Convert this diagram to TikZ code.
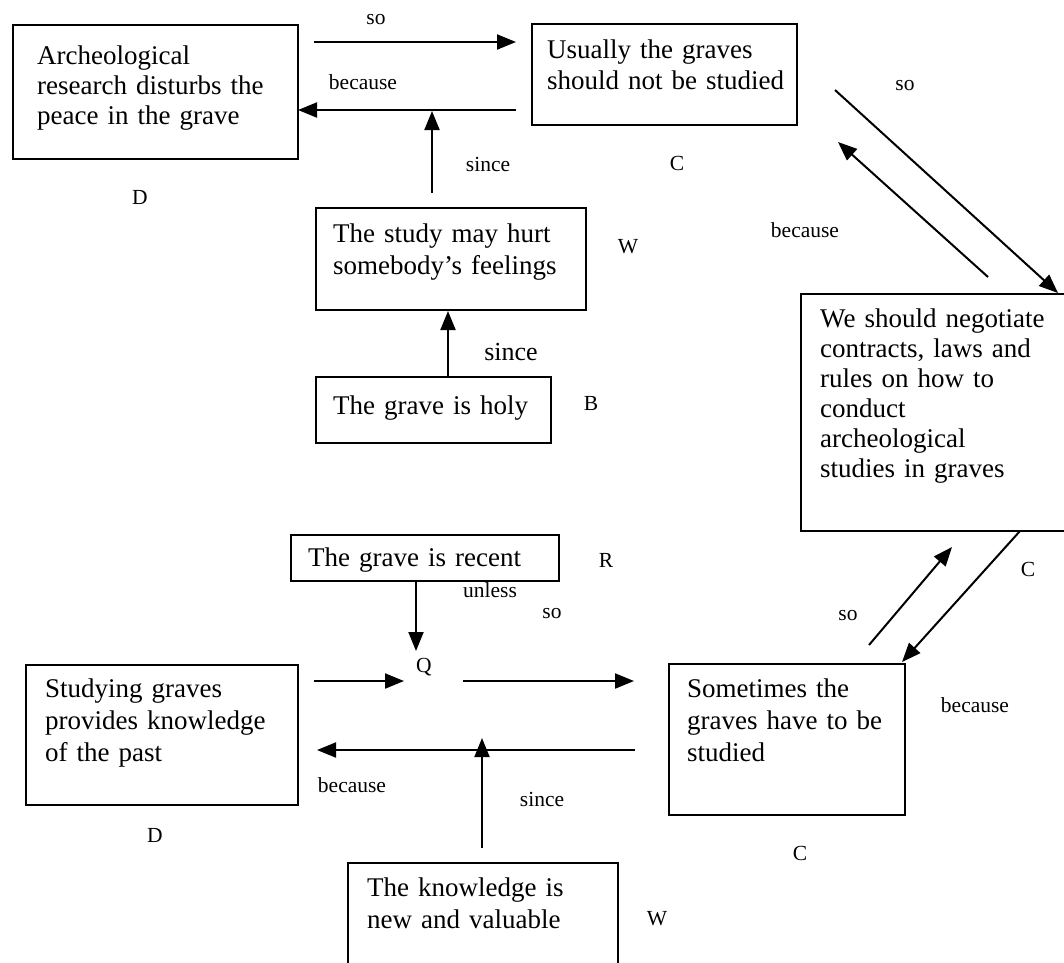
\documentclass[tikz,border=0pt]{standalone}
\usepackage{fontspec}
\setmainfont{Liberation Serif}
\usetikzlibrary{arrows.meta}
\newcommand{\boxfont}[1]{\fontsize{27}{#1}\selectfont}
\begin{document}
\begin{tikzpicture}[x=1pt,y=-1pt,
  box/.style={draw, line width=2.2pt, inner sep=0pt, anchor=north west},
  txt/.style={anchor=base west, inner sep=0pt, align=left, text width=300pt, font=\boxfont{#1}},
  lbl/.style={anchor=base, inner sep=0pt, font=\fontsize{21.5}{25}\selectfont},
  big/.style={anchor=base, inner sep=0pt, font=\fontsize{26}{30}\selectfont},
  arr/.style={line width=2pt, -{Triangle[length=19pt,width=15pt]}}]
\useasboundingbox (0,0) rectangle (1064,962);
\clip (0,0) rectangle (1064,962);
% boxes
\node[box, minimum width=285pt, minimum height=134pt] (A) at (12,24) {};
\node[txt=30] (At) at (37,64) {Archeological\\research disturbs the\\peace in the grave};
\node[box, minimum width=265pt, minimum height=101pt] (U) at (531,23) {};
\node[txt=31] (Ut) at (547,58) {Usually the graves\\should not be studied};
\node[box, minimum width=270pt, minimum height=102pt] (W1) at (315,207) {};
\node[txt=32] (W1t) at (333,242) {The study may hurt\\somebody’s feelings};
\node[box, minimum width=235pt, minimum height=66pt] (H) at (315,376) {};
\node[txt=30] (Ht) at (333,414) {The grave is holy};
\node[box, minimum width=280pt, minimum height=237pt] (N) at (800,293) {};
\node[txt=30] (Nt) at (820,327) {We should negotiate\\contracts, laws and\\rules on how to\\conduct\\archeological\\studies in graves};
\node[box, minimum width=268pt, minimum height=46pt] (R) at (290,534) {};
\node[txt=30] (Rt) at (308,566) {The grave is recent};
\node[box, minimum width=272pt, minimum height=140pt] (S) at (25,664) {};
\node[txt=32] (St) at (45,697) {Studying graves\\provides knowledge\\of the past};
\node[box, minimum width=236pt, minimum height=151pt] (M) at (668,663) {};
\node[txt=32] (Mt) at (687,697) {Sometimes the\\graves have to be\\studied};
\node[box, minimum width=270pt, minimum height=110pt] (K) at (347,862) {};
\node[txt=32] (Kt) at (367,896) {The knowledge is\\new and valuable};
% labels
\node[lbl] (l1) at (376,24) {so};
\node[lbl] (l2) at (363,89) {because};
\node[lbl] (l3) at (488,171) {since};
\node[lbl] (l4) at (677,170) {C};
\node[lbl] (l5) at (140,204) {D};
\node[lbl] (l6) at (628,253) {W};
\node[big] (l7) at (511,360) {since};
\node[lbl] (l8) at (591,410) {B};
\node[lbl] (l9) at (805,237) {because};
\node[lbl] (l10) at (905,90) {so};
\node[lbl] (l11) at (1028,576) {C};
\node[lbl] (l12) at (848,620) {so};
\node[lbl] (l13) at (975,712) {because};
\node[lbl] (l14) at (800,860) {C};
\node[lbl] (l15) at (606,567) {R};
\node[lbl] (l16) at (490,597) {unless};
\node[lbl] (l17) at (552,618) {so};
\node[lbl] (Q) at (424,672) {Q};
\node[lbl] (l18) at (352,792) {because};
\node[lbl] (l19) at (542,806) {since};
\node[lbl] (l20) at (155,842) {D};
\node[lbl] (l21) at (657,925) {W};
% connector end points
\coordinate (a1s) at (314,42);  \coordinate (a1e) at (516,42);
\coordinate (a2s) at (516,110); \coordinate (a2e) at (298,110);
\coordinate (a3s) at (432,193); \coordinate (a3e) at (432,111);
\coordinate (a4s) at (448,376); \coordinate (a4e) at (448,311);
\coordinate (a5s) at (835,90);  \coordinate (a5e) at (1058,293);
\coordinate (a6s) at (988,277); \coordinate (a6e) at (838,142);
\coordinate (a7s) at (869,645); \coordinate (a7e) at (952,547);
\coordinate (a8s) at (1020,531);\coordinate (a8e) at (902,662);
\coordinate (a9s) at (416,581); \coordinate (a9e) at (416,651);
\coordinate (a10s) at (314,681);\coordinate (a10e) at (404,681);
\coordinate (a11s) at (463,681);\coordinate (a11e) at (634,681);
\coordinate (a12s) at (635,750);\coordinate (a12e) at (317,750);
\coordinate (a13s) at (482,848);\coordinate (a13e) at (482,738);
% connectors
\draw[arr] (a1s) -- (a1e);
\draw[arr] (a2s) -- (a2e);
\draw[arr] (a3s) -- (a3e);
\draw[arr] (a4s) -- (a4e);
\draw[arr] (a5s) -- (a5e);
\draw[arr] (a6s) -- (a6e);
\draw[arr] (a7s) -- (a7e);
\draw[arr] (a8s) -- (a8e);
\draw[arr] (a9s) -- (a9e);
\draw[arr] (a10s) -- (a10e);
\draw[arr] (a11s) -- (a11e);
\draw[arr] (a12s) -- (a12e);
\draw[arr] (a13s) -- (a13e);
\end{tikzpicture}
\end{document}
